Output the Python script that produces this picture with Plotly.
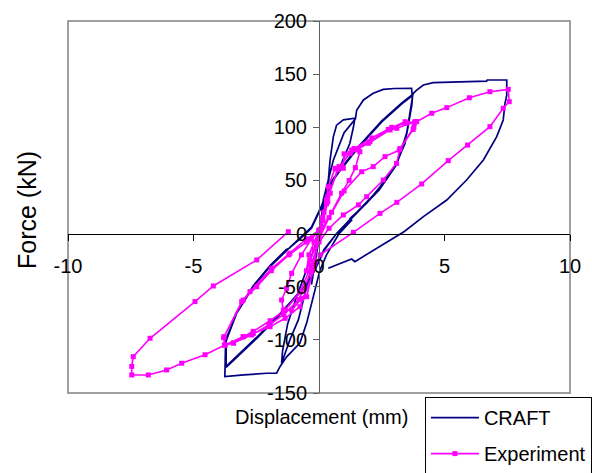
import plotly.graph_objects as go

# ---------------- data ----------------
craft_disp = [
    0, 0.1, 0.2, 0.3, 0.4,
    0.3, 0.15, 0.0, -0.1, -0.2, -0.3,
    -0.2, -0.05, 0.1,
    0.3, 0.44, 0.57, 0.7, 0.97, 1.23, 1.43,
    1.37, 1.23, 0.84, 0.44, 0.17, 0.0,
    -0.1, -0.23, -0.36, -0.49, -0.82, -1.16, -1.49,
    -1.45, -1.25, -0.9, -0.5, -0.2, 0.05,
    0.17, 0.57, 1.0, 1.45,
    1.5, 1.77, 2.16, 2.56, 3.0, 3.69,
    3.72, 3.6, 3.43, 3.09, 2.43, 1.9, 1.24, 1.3,
    0.8, 0.3, 0.04, -0.49, -0.76, -1.29, -1.55, -1.69, -2.08, -3.0, -3.75,
    -3.72, -3.28, -2.62, -1.95, -1.29, -1.2,
    -0.8, -0.3, 0.1, 0.4, 0.8, 1.5, 2.5, 3.3, 3.73,
    3.7, 3.5, 3.1, 2.4, 1.8, 1.25,
    0.7, 0.2, -0.1, -0.4, -1.42, -2.5, -3.7,
    -3.7, -3.28, -2.62, -1.95, -1.3, -1.2,
    -0.8, -0.3, 0.1, 0.4, 0.8, 1.5, 2.5, 3.3, 3.73,
    3.7, 3.5, 3.1, 2.4, 1.8, 1.25,
    0.7, 0.2, -0.1, -0.4, -1.42, -2.5, -3.7,
    -3.7, -3.28, -2.62, -1.95, -1.3, -1.2,
    -0.8, -0.3, 0.1, 0.4, 0.8, 1.5, 2.5, 3.3, 3.73,
    3.76, 3.89, 4.16, 4.55, 5.5, 6.68, 6.7, 7.48,
    7.48, 7.41, 7.34, 7.08, 6.55, 5.88, 5.09, 4.16, 3.4, 2.83, 2.3, 1.43, 1.3, 0.37,
]
craft_force = [
    0, 12, 25, 40, 52,
    35, 12, -5, -20, -35, -48,
    -30, -8, 10,
    30, 69, 91, 102, 107, 107.5, 108.5,
    100, 85, 63, 44, 25, 0,
    -15, -25, -37, -50, -81, -100, -122,
    -110, -85, -60, -35, -15, 5,
    31.6, 69, 95, 108,
    116, 125.7, 132, 135.7, 136.5, 136.7,
    128, 110, 85, 66, 44, 28.5, 14.4, 12.5,
    0, -20, -34.4, -84, -103, -116, -125, -131.4, -131.4, -133, -134.6,
    -100, -75, -50, -31, -15.4, -14,
    -5, 5, 25, 45, 58, 79, 105, 122, 130,
    122, 95, 66, 42, 27, 14,
    0, -15, -30, -45, -72, -98, -125,
    -100, -74, -49, -30, -15, -14,
    -5, 6, 26, 46, 59, 80, 106, 123, 131,
    121, 94, 65, 41, 26, 13,
    0, -16, -31, -46, -73, -99, -126,
    -101, -75, -50, -31, -16, -14,
    -6, 5, 25, 45, 58, 79, 105, 122, 130,
    132, 135, 139.8, 142, 142.5, 143.5, 144.5, 144.5,
    130, 122.6, 106.9, 91.2, 69.2, 50.4, 31.6, 15.9, 2, -6, -13.8, -26.4, -24, -32.7,
]

exp_disp = [
    0, 0.15, 0.3, 0.45,
    0.35, 0.15, 0.0, -0.2, -0.35, -0.5,
    -0.4, -0.2, 0.0,
    0.2, 0.37, 0.64, 0.97, 1.0, 1.24, 1.57,
    1.63, 1.45, 1.2, 0.9, 0.5, 0.0,
    -0.2, -0.49, -0.69, -1.09, -1.42,
    -1.49, -1.29, -1.09, -0.7, -0.3, 0.0,
    0.3, 0.77, 1.24, 1.97, 2.83, 3.1, 3.82,
    3.78, 3.23, 3.09, 2.56, 1.9, 1.57, 0.97, 0.4, 0.0,
    -0.3, -0.76, -1.35, -1.95, -2.62, -3.02, -3.75,
    -3.78, -3.08, -2.75, -1.88, -1.16, -0.5, 0.0,
    0.3, 0.75, 1.3, 2.03, 2.76, 3.43, 3.8,
    3.75, 3.2, 2.63, 2.16, 1.7, 1.0, 0.4, 0.0,
    -0.3, -0.8, -1.4, -2.0, -2.68, -3.41, -3.75,
    -3.8, -3.02, -2.48, -1.9, -1.2, -0.5, 0.05,
    0.35, 0.8, 1.4, 2.1, 2.9, 3.5, 3.89,
    4.49, 5.09, 5.99, 6.81, 7.54,
    7.58, 7.34, 6.81, 5.92, 5.15, 4.09, 3.1, 2.43, 1.37, 0.04,
    -0.76, -1.35, -1.95, -2.62, -3.02, -3.41, -3.75,
    -4.54, -5.47, -6.07, -6.8, -7.46, -7.46, -7.4, -6.73, -4.94, -4.21, -2.48, -1.22,
]
exp_force = [
    0, 15, 28, 38,
    30, 12, -2, -15, -25, -35,
    -20, -8, 3,
    20, 44, 61.4, 61.4, 75, 75.5, 78.6,
    77, 62, 50, 38, 20, 0,
    -30, -59.4, -61, -72, -72,
    -62.5, -51.5, -37.4, -20, -5, 3,
    30, 61.4, 75.5, 85, 97.5, 99, 105.3,
    100, 80, 66, 50.4, 34.7, 27, 17.5, 5, -8,
    -30, -55, -72, -82, -92, -97, -104.8,
    -97, -64, -54.6, -32.6, -18.5, -5, 3,
    32, 60, 78.6, 86.5, 98, 105.3, 104,
    98, 78.6, 72.4, 63, 58.2, 40, 15, -5,
    -35, -62, -76, -86, -95.4, -103, -105,
    -98, -62.5, -50, -35, -20, -8, 4,
    35, 63, 80, 90, 100, 104, 105.3,
    113.2, 118.5, 127.8, 133.5, 135.7,
    124.1, 117.9, 100.6, 83.3, 68.6, 46.7, 29.4, 19, 1.2, -20,
    -68.8, -79.7, -87.6, -94, -97, -103, -104.8,
    -114, -122, -128.3, -133, -133, -125, -115.8, -98.5, -64, -49.3, -24.8, 1.8,
]

x_ticks = [-10, -5, 0, 5, 10]
y_ticks = [-150, -100, -50, 0, 50, 100, 150, 200]
x_range = [-10, 10]
y_range = [-150, 200]

FONT = "Liberation Sans, Arial, sans-serif"

fig = go.Figure()
fig.add_trace(go.Scatter(
    x=craft_disp, y=craft_force, mode="lines", name="CRAFT",
    line=dict(color="#000080", width=1.7), legendgroup="a",
))
fig.add_trace(go.Scatter(
    x=exp_disp, y=exp_force, mode="lines+markers", name="Experiment",
    line=dict(color="#FF00FF", width=1.6),
    marker=dict(symbol="square", size=5, color="#FF00FF"), legendgroup="b",
))

y0_frac = (0 - y_range[0]) / (y_range[1] - y_range[0])
x0_frac = (0 - x_range[0]) / (x_range[1] - x_range[0])

fig.update_layout(
    width=592, height=473,
    margin=dict(l=68, r=22, t=21, b=80, autoexpand=False),
    paper_bgcolor="white", plot_bgcolor="white",
    font=dict(family=FONT, size=20, color="black"),
    showlegend=True,
    legend=dict(
        x=0.711, y=-0.011, xanchor="left", yanchor="top",
        bordercolor="black", borderwidth=1, bgcolor="white",
        font=dict(family=FONT, size=20, color="black"),
        traceorder="grouped", tracegroupgap=7, itemwidth=48,
    ),
    xaxis=dict(
        range=x_range, tickvals=x_ticks, ticktext=[str(v) for v in x_ticks],
        anchor="free", position=y0_frac, showline=True, linecolor="black", linewidth=1,
        ticks="outside", ticklen=6, tickcolor="black", showgrid=False, zeroline=False,
        tickfont=dict(family=FONT, size=20, color="black"), ticklabelstandoff=8,
        automargin=False,
    ),
    yaxis=dict(
        range=y_range, tickvals=y_ticks, ticktext=[str(v) for v in y_ticks],
        anchor="free", position=x0_frac, showline=True, linecolor="#606060", linewidth=1,
        ticks="outside", ticklen=6, tickcolor="#606060", showgrid=False, zeroline=False,
        tickfont=dict(family=FONT, size=20, color="black"), ticklabelstandoff=2,
        automargin=False,
    ),
    shapes=[dict(type="rect", xref="paper", yref="paper", x0=0, x1=1, y0=0, y1=1,
                 line=dict(color="#808080", width=1.5), layer="below")],
    annotations=[
        dict(text="Displacement (mm)", xref="paper", yref="paper",
             x=(321 - 68) / 502, y=(393 - 417) / 372, xanchor="center", yanchor="middle",
             showarrow=False, font=dict(family=FONT, size=20, color="black")),
        dict(text="Force (kN)", xref="paper", yref="paper",
             x=(27 - 68) / 502, y=(393 - 210) / 372, xanchor="center", yanchor="middle",
             textangle=-90, showarrow=False, font=dict(family=FONT, size=25, color="black")),
    ],
)

fig.write_html(
    "out.html",
    config={"displayModeBar": False},
    post_script="document.body.style.margin='0';document.body.style.overflow='hidden';",
)
